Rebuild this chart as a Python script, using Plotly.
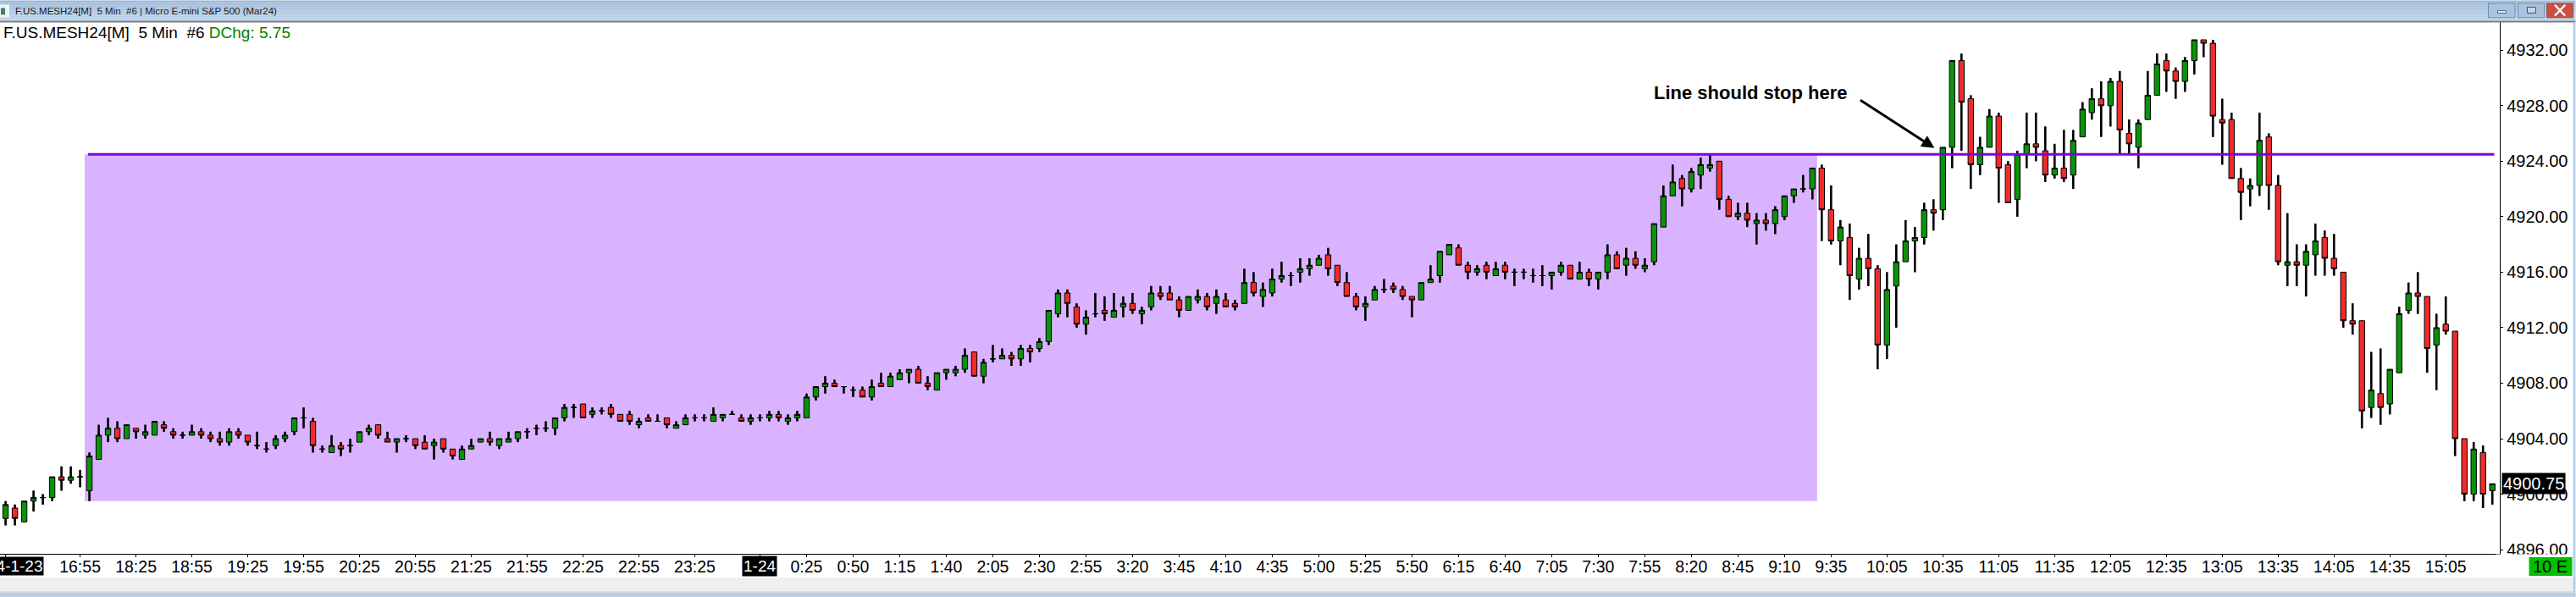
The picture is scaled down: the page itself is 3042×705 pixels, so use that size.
import plotly.graph_objects as go

opens = [4898.25,4899,4898,4899.5,4899.75,4899.75,4901.25,4901,4901.25,4900.25,
4902.5,4904.25,4904.75,4904,4904.75,4904.25,4904.25,4905,4904.5,4904.25,
4904.25,4904.5,4904.25,4904,4903.75,4904.5,4904.25,4903.5,4903.25,4903.5,
4904,4904.5,4905.5,4905.25,4903.25,4903,4903.5,4903.5,4903.75,4904.5,
4905,4904,4903.75,4904,4904,4903.75,4903.5,4904,4903.25,4902.5,
4903.25,4903.75,4904,4903.5,4903.75,4904,4904.5,4904.75,4904.75,4904.75,
4905.5,4906.25,4906.5,4905.75,4906,4906.25,4905.75,4905.75,4905,4905.5,
4905.25,4905.5,4904.75,4905,4905.5,4905.5,4905.25,4905.5,4905.75,4905.5,
4905.25,4905.5,4905.5,4905.75,4905.25,4905.5,4905.5,4907,4907.75,4908,
4907.75,4907.5,4907.5,4907,4908,4907.75,4908.25,4908.75,4909,4908,
4907.5,4908.75,4908.75,4909,4910.25,4908.5,4909.75,4909.75,4910,4909.75,
4910.5,4910.5,4911,4913,4914.5,4913.5,4912.25,4913,4913.25,4912.75,
4913.5,4913.75,4913,4913.5,4914.5,4914.5,4914,4913.25,4914,4914.25,
4913.75,4914,4913.75,4913.75,4915.25,4914.25,4914.5,4915.5,4915.75,4916,
4916.25,4916.5,4917.25,4916.5,4915.25,4914.25,4913.5,4914,4914.75,4915,
4914.75,4914.25,4914,4915.25,4915.75,4917.25,4917.75,4916.5,4916,4916.5,
4915.75,4916.5,4916,4916,4915.75,4915.75,4915.75,4916,4916.5,4915.5,
4916,4915.5,4916,4917.25,4916.5,4917,4916.25,4916.75,4919.25,4921.5,
4922.75,4922,4923,4923.5,4924,4921.25,4920,4920.25,4919.5,4919.75,
4919.5,4920,4921.5,4922,4922,4923.5,4920.5,4918.25,4918.5,4915.5,
4917,4916.25,4910.75,4915,4916.75,4918.25,4918.5,4920.5,4920.5,4925,
4931.25,4928.5,4923.75,4925,4927.25,4923.75,4921.25,4924.5,4925.25,4924.75,
4923,4923.5,4923,4925.75,4927.5,4928.5,4928,4929.75,4926,4925,
4927,4928.75,4931.25,4930.5,4929.75,4931.25,4932.75,4932.5,4927,4927,
4922.75,4922,4922.25,4925.75,4922.25,4916.5,4916.75,4916.5,4917.25,4918.5,
4917,4916,4912.5,4912.5,4906.25,4907.25,4906.5,4908.75,4913.25,4914.5,
4914.25,4910.75,4912.25,4911.75,4904,4900,4903,4900.25]

highs = [4899.5,4899.25,4899.5,4900.25,4900,4901.25,4902,4902,4901.75,4903,
4905,4905.5,4905.25,4905,4904.75,4905,4905.25,4905.25,4904.75,4904.5,
4905,4904.75,4904.5,4904.5,4904.75,4904.75,4904.25,4904.5,4903.75,4904.25,
4904.5,4905.5,4906.25,4905.5,4903.5,4904.25,4903.75,4904,4904.5,4905,
4905,4904.5,4904,4904.25,4904,4904.25,4904,4904,4903.25,4903.5,
4904,4904,4904.5,4904,4904.5,4904.5,4904.75,4905,4905.25,4905.5,
4906.5,4906.5,4906.5,4906.25,4906.25,4906.5,4905.75,4906,4905.5,4905.75,
4905.75,4905.5,4905.25,4905.75,4905.75,4905.75,4906.25,4905.75,4906,4905.75,
4905.75,4905.75,4906,4906,4905.75,4906,4907.25,4907.75,4908.5,4908.25,
4907.75,4907.75,4907.75,4908.25,4908.75,4908.75,4909,4909,4909.25,4908.5,
4908.75,4909,4909.25,4910.5,4910.25,4909.75,4910.75,4910.5,4910.25,4910.75,
4910.75,4911.25,4913.25,4914.75,4914.75,4913.75,4913.25,4914.5,4914.25,4914.5,
4914.25,4914.5,4913.5,4915,4915,4915,4914.25,4914.25,4914.75,4914.5,
4914.75,4914.5,4914,4916.25,4916,4915.25,4916.25,4916.75,4916,4917,
4917,4917.25,4917.75,4916.5,4916,4914.5,4914.25,4915,4915.5,4915.25,
4915,4914.25,4915.25,4916.5,4917.5,4918,4918,4916.75,4916.5,4916.75,
4916.75,4916.75,4916.25,4916.25,4916.25,4916.5,4916,4916.75,4916.5,4916.75,
4916.25,4916,4918,4917.5,4917.75,4917.5,4917,4919.5,4922.25,4923.75,
4923,4923.5,4924.25,4924.5,4924,4921.5,4921,4921,4920.25,4920.25,
4920.75,4921.5,4922,4923,4923.5,4923.75,4922.25,4919.75,4919.5,4917.75,
4918.75,4916.5,4916,4918,4919.75,4919.25,4921,4921.25,4925,4931.25,
4931.75,4928.75,4925.75,4927.75,4927.5,4924,4924.75,4927.5,4927.5,4926.5,
4925.25,4926.25,4926.25,4928.25,4929.25,4929.75,4930,4930.5,4927,4927,
4930.5,4931.75,4931.75,4930.75,4931.5,4932.75,4932.75,4932.75,4928.5,4927.5,
4923.5,4922.75,4927.5,4926,4923,4920.25,4918,4918,4919.5,4919,
4918.75,4916,4913.75,4912.5,4910.25,4910.5,4909,4913.5,4915.25,4916,
4914.25,4913,4914.25,4911.75,4904,4903.75,4903.5,4900.75]

lows = [4897.75,4897.75,4898,4898.75,4899.25,4899.5,4900.25,4900.75,4900.5,4899.5,
4902.5,4903.75,4903.75,4904,4904,4904,4904.25,4904.5,4904,4904,
4904.25,4904,4903.75,4903.5,4903.5,4904,4903.5,4903.25,4903,4903.25,
4903.75,4904.25,4904.75,4903,4903,4903,4902.75,4903,4903.75,4904.25,
4904,4903.75,4903,4903.75,4903.25,4903.25,4902.5,4903,4902.5,4902.5,
4903.25,4903.75,4903.5,4903.25,4903.75,4903.75,4904,4904.25,4904.5,4904.25,
4905.25,4905.5,4905.5,4905.5,4905.75,4905.5,4905.25,4905,4904.75,4905.25,
4905.25,4904.75,4904.75,4905,4905.25,4905.25,4905.25,4905.25,4905.75,4905.25,
4905,4905.25,4905.25,4905.25,4905,4905.25,4905.5,4906.75,4907.25,4907.75,
4907.25,4907,4907,4906.75,4907.75,4907.75,4908.25,4908,4908,4907.5,
4907.5,4908.25,4908.5,4908.75,4908.5,4908,4909.5,4909.75,4909.25,4909.25,
4909.5,4910.25,4910.75,4912.75,4912.75,4912,4911.5,4912.75,4912.5,4912.75,
4912.75,4913,4912.25,4913.25,4914,4914,4912.75,4913.25,4913.75,4913.25,
4913,4913.5,4913.25,4913.75,4914.25,4913.5,4914.25,4915.25,4915,4915.25,
4915.75,4916.5,4915.75,4915,4914.25,4913.25,4912.5,4914,4914.5,4914.5,
4914,4912.75,4914,4915.25,4915.25,4917.25,4916.5,4915.5,4915.75,4915.5,
4915.75,4915.5,4915,4915.5,4915.25,4915,4914.75,4915.75,4915.5,4915.5,
4915,4914.75,4915.5,4916.25,4915.75,4916.25,4916,4916.5,4919.25,4921.5,
4920.75,4921.75,4922,4923.25,4920.5,4920,4919.75,4919.25,4918,4919,
4918.75,4919.75,4921,4921.75,4921.25,4918.25,4918,4916.5,4914,4914.75,
4915,4909,4909.75,4912,4916.75,4916,4918,4919,4919.75,4923.5,
4924.75,4922,4923,4925,4921,4921,4920,4923.5,4924,4922.5,
4922.75,4922.5,4922,4925.75,4927,4925.75,4926.5,4924.5,4924.5,4923.5,
4927,4928.75,4929,4928.5,4929,4930.25,4931.5,4925.75,4923.75,4922.75,
4919.75,4920.75,4921.5,4920.5,4916.5,4915,4915,4914.25,4915.75,4915.75,
4915.75,4912,4911.5,4904.75,4905.5,4905,4905.75,4908.75,4913,4913,
4908.75,4907.5,4911.5,4902.75,4899.5,4899.5,4899,4899.25]

closes = [4899.25,4898.25,4899.5,4899.75,4899.75,4901.25,4901,4901.25,4901.25,4902.75,
4904.25,4904.75,4904,4905,4904.5,4904.5,4905.25,4904.75,4904.25,4904.25,
4904.5,4904.25,4904,4903.75,4904.5,4904.25,4903.75,4903.5,4903.25,4904,
4904.25,4905.5,4905.5,4903.5,4903.25,4903.5,4903.25,4903.5,4904.5,4904.75,
4904.25,4903.75,4904,4904,4903.5,4903.25,4903.75,4903.25,4902.75,4903.25,
4903.5,4904,4903.75,4904,4904,4904.5,4904.5,4904.75,4904.75,4905.5,
4906.25,4906.25,4905.5,4906,4906,4905.75,4905.25,4905.25,4905.25,4905.25,
4905.25,4905,4905,4905.5,4905.5,4905.5,4905.75,4905.75,4905.75,4905.25,
4905.5,4905.5,4905.75,4905.5,4905.5,4905.75,4907,4907.75,4908,4907.75,
4907.75,4907.5,4907,4907.75,4907.75,4908.5,4908.75,4909,4908,4907.75,
4908.75,4909,4909,4910,4908.5,4909.5,4909.75,4910,4909.75,4910.5,
4910.25,4911,4913.25,4914.5,4913.75,4912.25,4912.75,4913,4913,4913.25,
4913.75,4913.25,4913.25,4914.5,4914.25,4914,4913.25,4914.25,4914.25,4913.5,
4914.25,4913.5,4913.5,4915.25,4914.5,4914.75,4915.5,4915.75,4915.75,4916.25,
4916.5,4917,4916.25,4915.25,4914.25,4913.5,4913.75,4914.75,4914.75,4914.75,
4914.25,4914,4915.25,4915.5,4917.5,4918,4916.5,4916,4916.25,4916,
4916.25,4916,4916,4916,4915.75,4915.75,4916,4916.5,4915.5,4916,
4915.5,4916,4917.25,4916.25,4917,4916.5,4916.5,4919.5,4921.5,4922.5,
4922,4923.25,4923.75,4923.75,4921.25,4920,4920.25,4919.75,4919.75,4919.5,
4920.5,4921.5,4922,4922,4923.5,4920.5,4918.25,4919.25,4915.75,4917,
4916.25,4910.75,4914.75,4916.75,4918.25,4918.5,4920.5,4920.25,4925,4931.25,
4928.25,4923.75,4925,4927.25,4923.5,4921,4924.5,4925.25,4925,4923,
4923.5,4922.75,4925.5,4927.75,4928.5,4928,4929.75,4926.25,4925.25,4926.75,
4928.75,4931,4930.5,4929.75,4931.25,4932.75,4932.5,4927.25,4926.75,4922.75,
4921.75,4922.25,4925.5,4922.25,4916.75,4916.75,4916.5,4917.5,4918.25,4917,
4916.25,4912.5,4912.25,4906,4907.5,4906.25,4909,4913,4914.5,4914.25,
4910.5,4912,4911.75,4904,4900,4903.25,4900,4900.75]

bar_index = list(range(len(opens)))

tick_positions = [0,8,14,20,26,32,38,44,50,56,62,68,74,81,86,91,96,101,106,111,116,121,126,131,
                  136,141,146,151,156,161,166,171,176,181,186,191,196,202,208,214,220,226,232,
                  238,244,250,256,262]
tick_labels = ["","16:55","18:25","18:55","19:25","19:55","20:25","20:55","21:25","21:55","22:25",
               "22:55","23:25","","0:25","0:50","1:15","1:40","2:05","2:30","2:55","3:20","3:45",
               "4:10","4:35","5:00","5:25","5:50","6:15","6:40","7:05","7:30","7:55","8:20","8:45",
               "9:10","9:35","10:05","10:35","11:05","11:35","12:05","12:35","13:05","13:35",
               "14:05","14:35","15:05"]
price_ticks = [4896,4900,4904,4908,4912,4916,4920,4924,4928,4932]
price_labels = ["4896.00","4900.00","4904.00","4908.00","4912.00","4916.00","4920.00","4924.00",
                "4928.00","4932.00"]

level_price = 4924.5
zone_bottom = 4899.5
last_price = 4900.75

W, H = 3042, 705
PL, PR, PT, PB = 0, 2952.5, 25.6, 654
def fx(px): return px / PR
def fy(py): return (PB - py) / (PB - PT)

GREEN, RED = "#0a930a", "#f22a2a"
wick_span = [hi - lo for hi, lo in zip(highs, lows)]

fig = go.Figure()
fig.add_trace(go.Bar(x=bar_index, y=wick_span, base=lows, width=0.24,
                     marker=dict(color="black", line=dict(width=0)), showlegend=False))
fig.add_trace(go.Candlestick(
    x=bar_index, open=opens, high=highs, low=lows, close=closes,
    increasing=dict(fillcolor=GREEN, line=dict(color="black", width=1)),
    decreasing=dict(fillcolor=RED, line=dict(color="black", width=1)),
    showlegend=False))

def rect(x0, y0, x1, y1, color, line=None, layer="above"):
    return dict(type="rect", xref="paper", yref="paper", x0=fx(x0), x1=fx(x1), y0=fy(y0), y1=fy(y1),
                fillcolor=color, line=dict(width=1 if line else 0, color=line or color), layer=layer)

shapes = []
shapes.append(dict(type="rect", xref="x", yref="y", x0=8.49, x1=194.5, y0=zone_bottom, y1=level_price,
                   fillcolor="#d9b3ff", line=dict(width=0), layer="below"))
shapes.append(dict(type="line", xref="x", yref="y", x0=8.85, x1=267.2, y0=level_price, y1=level_price,
                   line=dict(color="#7f00e6", width=3), layer="above"))
top, bot = (155, 182, 212), (184, 211, 236)
for k in range(12):
    t = k / 11
    c = tuple(round(a + (b - a) * t) for a, b in zip(top, bot))
    shapes.append(rect(0, k * 2, W, k * 2 + 2, "rgb(%d,%d,%d)" % c))
shapes.append(rect(0, 24, W, 26, "#7d7d7d"))
shapes.append(rect(0, 5, 11, 20, "#f4f6f6"))
shapes.append(rect(1, 9, 6, 17, "#3f7f78"))
shapes.append(rect(2939, 3.5, 2970.5, 20.5, "#a9c3de", "#6f8fb2"))
shapes.append(rect(2950, 12, 2960, 15, "#e8eef5", "#4f6b8c"))
shapes.append(rect(2974, 3.5, 3005, 20.5, "#a9c3de", "#6f8fb2"))
shapes.append(rect(2985, 8, 2995, 15, "#c5d6e8", "#3f5570"))
shapes.append(rect(3008, 3.5, 3039, 20.5, "#c9503f", "#8e5b55"))
shapes.append(rect(2948, 654.5, W, 682, "white"))
shapes.append(rect(0, 682, W, 698, "#efefef"))
shapes.append(rect(0, 698, W, 700, "#dcdcdc"))
shapes.append(rect(0, 700, W, 705, "#b6d0ea"))
shapes.append(rect(3039, 26, W, 705, "#b6d0ea"))
shapes.append(rect(2987, 658, 3038, 680, "#00c000"))

def label(text, x, y, size=19, color="black", family="Liberation Sans", anchor="left", bg=None, **kw):
    return dict(text=text, xref="paper", yref="paper", x=fx(x), y=fy(y), xanchor=anchor, yanchor="middle",
                showarrow=False, font=dict(size=size, color=color, family=family), bgcolor=bg,
                borderpad=0, **kw)

annotations = [
    label("F.US.MESH24[M]&nbsp;&nbsp;5 Min&nbsp;&nbsp;#6 | Micro E-mini S&amp;P 500 (Mar24)", 17, 13,
          size=11.5, color="#1a1a1a"),
    label("F.US.MESH24[M]&nbsp;&nbsp;5 Min&nbsp;&nbsp;#6 <span style='color:#008000'>DChg: 5.75</span>",
          3, 38, size=19),
    label("<b>Line should stop here</b>", 2068, 109, size=22, anchor="center"),
    label("10 E", 3012.5, 669, size=20, anchor="center"),
    label("\u00d7", 3023.5, 11.5, size=24, color="white", anchor="center", family="DejaVu Sans"),
    label("24-1-23", 52, 669, size=19, color="white", anchor="right", bg="black"),
    dict(text="1-24", xref="x", yref="paper", x=81, y=fy(669), xanchor="center", yanchor="middle",
         showarrow=False, font=dict(size=19, color="white", family="Liberation Sans"), bgcolor="black",
         borderpad=1),
    dict(text="%.2f" % last_price, xref="paper", yref="y", x=fx(2992.5), y=last_price, xanchor="center",
         yanchor="middle", showarrow=False, font=dict(size=20, color="white", family="Liberation Sans"),
         bgcolor="black", borderpad=1),
    dict(text=" ", xref="x", yref="y", x=207.1, y=4924.95, ax=-90.5, ay=-58.5, axref="pixel", ayref="pixel",
         showarrow=True, arrowhead=2, arrowsize=1, arrowwidth=3, arrowcolor="black"),
]

fig.update_layout(
    width=W, height=H, autosize=False, paper_bgcolor="white", plot_bgcolor="white",
    margin=dict(l=0, r=W - PR, t=PT, b=H - PB, pad=0),
    showlegend=False, boxgap=0.42, boxgroupgap=0, barmode="overlay", hovermode=False,
    shapes=shapes, annotations=annotations,
    xaxis=dict(range=[-0.6, 267.8], tickmode="array", tickvals=tick_positions, ticktext=tick_labels,
               showgrid=False, zeroline=False, showline=True, linecolor="black", linewidth=1.3,
               ticks="outside", ticklen=3, tickcolor="black", tickangle=0, ticklabelstandoff=-6,
               tickfont=dict(family="Liberation Sans", size=19.5, color="black"),
               rangeslider=dict(visible=False)),
    yaxis=dict(range=[4895.70, 4934.03], side="right", tickmode="array", tickvals=price_ticks,
               ticktext=price_labels, showgrid=False, zeroline=False, showline=True, linecolor="black",
               linewidth=1.3, ticks="outside", ticklen=3, tickcolor="black",
               tickfont=dict(family="Liberation Sans", size=20, color="black")),
)

fig.write_html("out.html", config=dict(displayModeBar=False),
               post_script="document.body.style.margin='0';document.body.style.overflow='hidden';")
